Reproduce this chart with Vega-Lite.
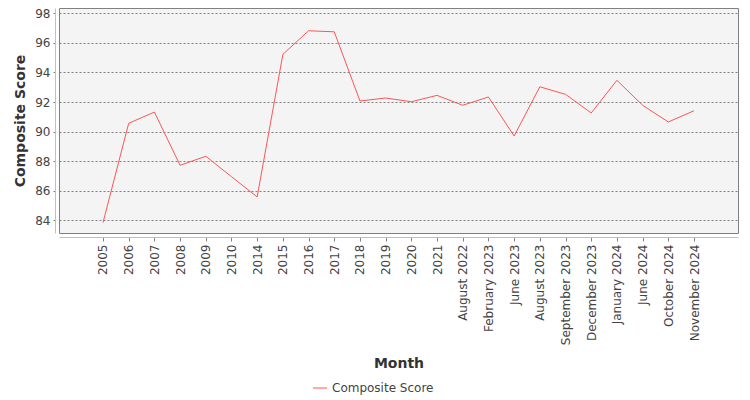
{
  "$schema": "https://vega.github.io/schema/vega-lite/v6.json",
  "autosize": {"type": "none"},
  "padding": {"left": 59, "top": 8, "right": 12, "bottom": 167},
  "width": 679,
  "height": 225,
  "background": "white",
  "config": {
    "font": "DejaVu Sans",
    "view": {"fill": "#f4f4f4", "stroke": "#808080", "strokeWidth": 1}
  },
  "data": {
    "values": [
      {"i": 0, "month": "2005", "score": 83.84},
      {"i": 1, "month": "2006", "score": 90.56},
      {"i": 2, "month": "2007", "score": 91.32},
      {"i": 3, "month": "2008", "score": 87.72},
      {"i": 4, "month": "2009", "score": 88.33},
      {"i": 5, "month": "2010", "score": 86.95},
      {"i": 6, "month": "2014", "score": 85.58},
      {"i": 7, "month": "2015", "score": 95.22},
      {"i": 8, "month": "2016", "score": 96.82},
      {"i": 9, "month": "2017", "score": 96.75},
      {"i": 10, "month": "2018", "score": 92.07},
      {"i": 11, "month": "2019", "score": 92.27},
      {"i": 12, "month": "2020", "score": 92.02},
      {"i": 13, "month": "2021", "score": 92.45},
      {"i": 14, "month": "August 2022", "score": 91.78},
      {"i": 15, "month": "February 2023", "score": 92.34},
      {"i": 16, "month": "June 2023", "score": 89.7},
      {"i": 17, "month": "August 2023", "score": 93.03},
      {"i": 18, "month": "September 2023", "score": 92.52},
      {"i": 19, "month": "December 2023", "score": 91.26},
      {"i": 20, "month": "January 2024", "score": 93.47},
      {"i": 21, "month": "June 2024", "score": 91.78},
      {"i": 22, "month": "October 2024", "score": 90.65},
      {"i": 23, "month": "November 2024", "score": 91.41}
    ]
  },
  "mark": {"type": "line", "strokeWidth": 1, "interpolate": "linear"},
  "encoding": {
    "x": {
      "field": "i",
      "type": "quantitative",
      "title": "Month",
      "scale": {"domain": [-1.712, 24.712], "nice": false, "zero": false},
      "axis": {
        "values": [0, 1, 2, 3, 4, 5, 6, 7, 8, 9, 10, 11, 12, 13, 14, 15, 16, 17, 18, 19, 20, 21, 22, 23],
        "labelExpr": "['2005','2006','2007','2008','2009','2010','2014','2015','2016','2017','2018','2019','2020','2021','August 2022','February 2023','June 2023','August 2023','September 2023','December 2023','January 2024','June 2024','October 2024','November 2024'][datum.value]",
        "offset": 4,
        "domainColor": "#c0c0c0",
        "tickColor": "#808080",
        "tickSize": 4,
        "labelAngle": 270,
        "labelAlign": "right",
        "labelBaseline": "middle",
        "labelFontSize": 12,
        "labelColor": "#444444",
        "labelPadding": 3,
        "labelFlush": false,
        "labelOverlap": false,
        "titleFontSize": 14,
        "titleFontWeight": "bold",
        "titleColor": "#333333",
        "titlePadding": 12,
        "grid": false
      }
    },
    "y": {
      "field": "score",
      "type": "quantitative",
      "title": "Composite Score",
      "scale": {"domain": [83.14, 98.36], "nice": false, "zero": false},
      "axis": {
        "values": [84, 86, 88, 90, 92, 94, 96, 98],
        "offset": 4,
        "domainColor": "#c0c0c0",
        "tickColor": "#808080",
        "tickSize": 2,
        "labelFontSize": 12,
        "labelColor": "#444444",
        "labelPadding": 3,
        "titleFontSize": 14,
        "titleFontWeight": "bold",
        "titleColor": "#333333",
        "titlePadding": 7,
        "grid": true,
        "gridColor": "#808080",
        "gridDash": [2, 2],
        "gridWidth": 1
      }
    },
    "color": {
      "datum": "Composite Score",
      "type": "nominal",
      "scale": {"range": ["#ff5555"]},
      "legend": {
        "title": null,
        "orient": "none",
        "legendX": 253,
        "legendY": 372,
        "symbolType": "stroke",
        "symbolStrokeWidth": 1,
        "symbolSize": 200,
        "labelFontSize": 12,
        "labelColor": "#444444",
        "labelFont": "DejaVu Sans"
      }
    }
  }
}
